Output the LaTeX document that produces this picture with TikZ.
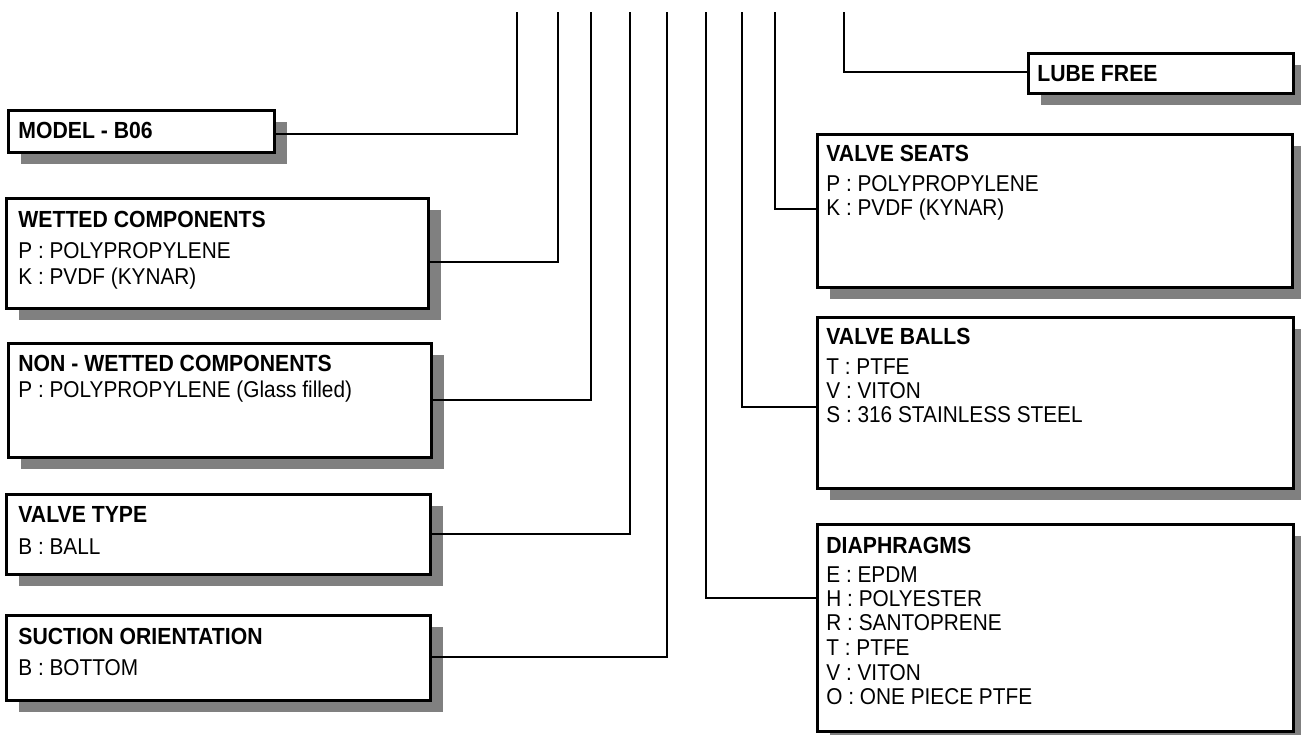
\documentclass[tikz,border=0pt]{standalone}
\usepackage{graphicx}
\usepackage{fontspec}
\setmainfont{Liberation Sans}
\usetikzlibrary{shadows}
\definecolor{shadowgray}{HTML}{808080}
\newcommand{\tx}[1]{\scalebox{1}[1.1]{#1}}
\begin{document}
\begin{tikzpicture}[x=0.5pt,y=-0.5pt,
  box/.style={draw, line width=1.35pt, fill=white, anchor=north west, inner sep=0pt,
    drop shadow={shadow xshift=6.5pt, shadow yshift=-6pt, fill=shadowgray, opacity=1}},
  lbl/.style={anchor=base west, inner sep=0pt, font=\fontsize{10.4}{12}\selectfont},
  ttl/.style={lbl, font=\fontsize{10.6}{12}\selectfont\bfseries},
  conn/.style={line width=1.35pt}]
\useasboundingbox (0,0) rectangle (1301,734);

% ---------- left column ----------
\node[box, minimum width=133pt, minimum height=21pt] (model) at (7,109) {};
\node[ttl] (modelT) at (18,138) {\tx{MODEL - B06}};

\node[box, minimum width=211pt, minimum height=55pt] (wet) at (5,197) {};
\node[ttl] (wetT) at (18,227) {\tx{WETTED COMPONENTS}};
\node[lbl] (wet1) at (18,258) {\tx{P : POLYPROPYLENE}};
\node[lbl] (wet2) at (18,284) {\tx{K : PVDF (KYNAR)}};

\node[box, minimum width=211.5pt, minimum height=57pt] (non) at (7,342) {};
\node[ttl] (nonT) at (18,371) {\tx{NON - WETTED COMPONENTS}};
\node[lbl] (non1) at (18,397) {\tx{P : POLYPROPYLENE (Glass filled)}};

\node[box, minimum width=212pt, minimum height=40pt] (vt) at (5,493) {};
\node[ttl] (vtT) at (18,522) {\tx{VALVE TYPE}};
\node[lbl] (vt1) at (18,554) {\tx{B : BALL}};

\node[box, minimum width=212pt, minimum height=42.5pt] (suc) at (5,614) {};
\node[ttl] (sucT) at (18,644) {\tx{SUCTION ORIENTATION}};
\node[lbl] (suc1) at (18,675) {\tx{B : BOTTOM}};

% ---------- right column ----------
\node[box, minimum width=132.5pt, minimum height=20pt] (lube) at (1027,52) {};
\node[ttl] (lubeT) at (1037,81) {\tx{LUBE FREE}};

\node[box, minimum width=237.5pt, minimum height=76.5pt] (seat) at (816,133) {};
\node[ttl] (seatT) at (826,161) {\tx{VALVE SEATS}};
\node[lbl] (seat1) at (826,191) {\tx{P : POLYPROPYLENE}};
\node[lbl] (seat2) at (826,215) {\tx{K : PVDF (KYNAR)}};

\node[box, minimum width=238pt, minimum height=85.5pt] (ball) at (816,316) {};
\node[ttl] (ballT) at (826,344) {\tx{VALVE BALLS}};
\node[lbl] (ball1) at (826,374) {\tx{T : PTFE}};
\node[lbl] (ball2) at (826,398) {\tx{V : VITON}};
\node[lbl] (ball3) at (826,422) {\tx{S : 316 STAINLESS STEEL}};

\node[box, minimum width=238pt, minimum height=103.5pt] (dia) at (816,523) {};
\node[ttl] (diaT) at (826,553) {\tx{DIAPHRAGMS}};
\node[lbl] (dia1) at (826,582) {\tx{E : EPDM}};
\node[lbl] (dia2) at (826,606) {\tx{H : POLYESTER}};
\node[lbl] (dia3) at (826,630) {\tx{R : SANTOPRENE}};
\node[lbl] (dia4) at (826,655) {\tx{T : PTFE}};
\node[lbl] (dia5) at (826,680) {\tx{V : VITON}};
\node[lbl] (dia6) at (826,704) {\tx{O : ONE PIECE PTFE}};

% ---------- top ends of the code lines ----------
\coordinate (t1) at (517,12);
\coordinate (t2) at (558,12);
\coordinate (t3) at (591,12);
\coordinate (t4) at (630,12);
\coordinate (t5) at (667,12);
\coordinate (t6) at (706,12);
\coordinate (t7) at (742,12);
\coordinate (t8) at (775,12);
\coordinate (t9) at (844,12);

\draw[conn] (t1) |- (model.east |- 0,134);
\draw[conn] (t2) |- (wet.east |- 0,262);
\draw[conn] (t3) |- (non.east |- 0,400);
\draw[conn] (t4) |- (vt.east |- 0,534);
\draw[conn] (t5) |- (suc.east |- 0,657);
\draw[conn] (t6) |- (dia.west |- 0,598);
\draw[conn] (t7) |- (ball.west |- 0,407);
\draw[conn] (t8) |- (seat.west |- 0,209);
\draw[conn] (t9) |- (lube.west |- 0,72);
\end{tikzpicture}
\end{document}
